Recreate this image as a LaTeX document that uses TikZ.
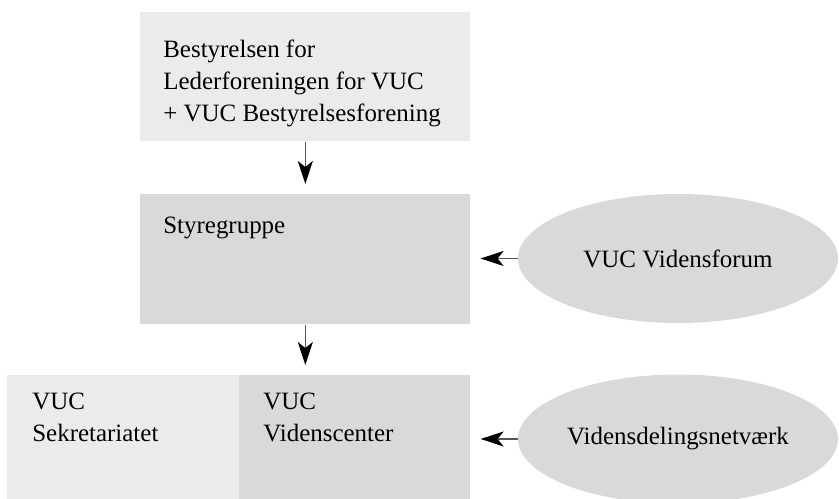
\documentclass[tikz,border=0pt]{standalone}
\usepackage{fontspec}
\setmainfont{Liberation Serif}
\usetikzlibrary{arrows.meta,positioning,shapes.geometric}

\definecolor{boxlight}{HTML}{EBEBED}
\definecolor{boxdark}{HTML}{D9D9DB}
\definecolor{linegray}{HTML}{555555}

\tikzset{
  orgfont/.style={font=\fontsize{14.2}{18}\selectfont},
  box/.style={inner sep=0pt, anchor=north west},
  boxtext/.style={orgfont, anchor=north west, align=left, inner sep=0pt, label distance=0pt},
  blob/.style={ellipse, fill=boxdark, minimum width=6.4cm, minimum height=2.58cm, inner sep=0pt, orgfont},
  flow/.style={draw=linegray, line width=0.03cm, shorten >=0.2cm,
    -{Stealth[length=0.46cm, width=0.3cm, inset=0.12cm, color=black]}}
}

\begin{document}
\begin{tikzpicture}[x=0.02cm, y=-0.02cm]
\useasboundingbox (0,0) rectangle (839,499);

% kasser
\node[box, fill=boxlight, minimum width=6.6cm, minimum height=2.58cm,
  label={[boxtext, xshift=0.46cm, yshift=-0.56cm]north west:{Bestyrelsen for\\Lederforeningen for VUC\\+ VUC Bestyrelsesforening}}]
  (bestyrelse) at (140,12) {};
\node[box, fill=boxdark, minimum width=6.6cm, minimum height=2.6cm,
  label={[boxtext, xshift=0.46cm, yshift=-0.46cm]north west:{Styregruppe}}]
  (styre) at (140,194) {};
\node[box, fill=boxlight, minimum width=4.64cm, minimum height=2.5cm,
  label={[boxtext, xshift=0.5cm, yshift=-0.36cm]north west:{VUC\\Sekretariatet}}]
  (sekretariat) at (7,375) {};
\node[box, fill=boxdark, minimum width=4.62cm, minimum height=2.5cm,
  label={[boxtext, xshift=0.48cm, yshift=-0.36cm]north west:{VUC\\Videnscenter}}]
  (videnscenter) at (239,375) {};

% ellipser
\node[blob] (forum) at (678,258.5) {VUC Vidensforum};
\node[blob] (netvaerk) at (678,439) {Vidensdelingsnetværk};

% pile
\draw[flow] (bestyrelse.south) -- (styre.north);
\draw[flow] (styre.south) -- (styre.south |- videnscenter.north);
\draw[flow] (forum.west) -- (forum.west -| styre.east);
\draw[flow] (netvaerk.west) -- (netvaerk.west -| videnscenter.east);
\end{tikzpicture}
\end{document}
